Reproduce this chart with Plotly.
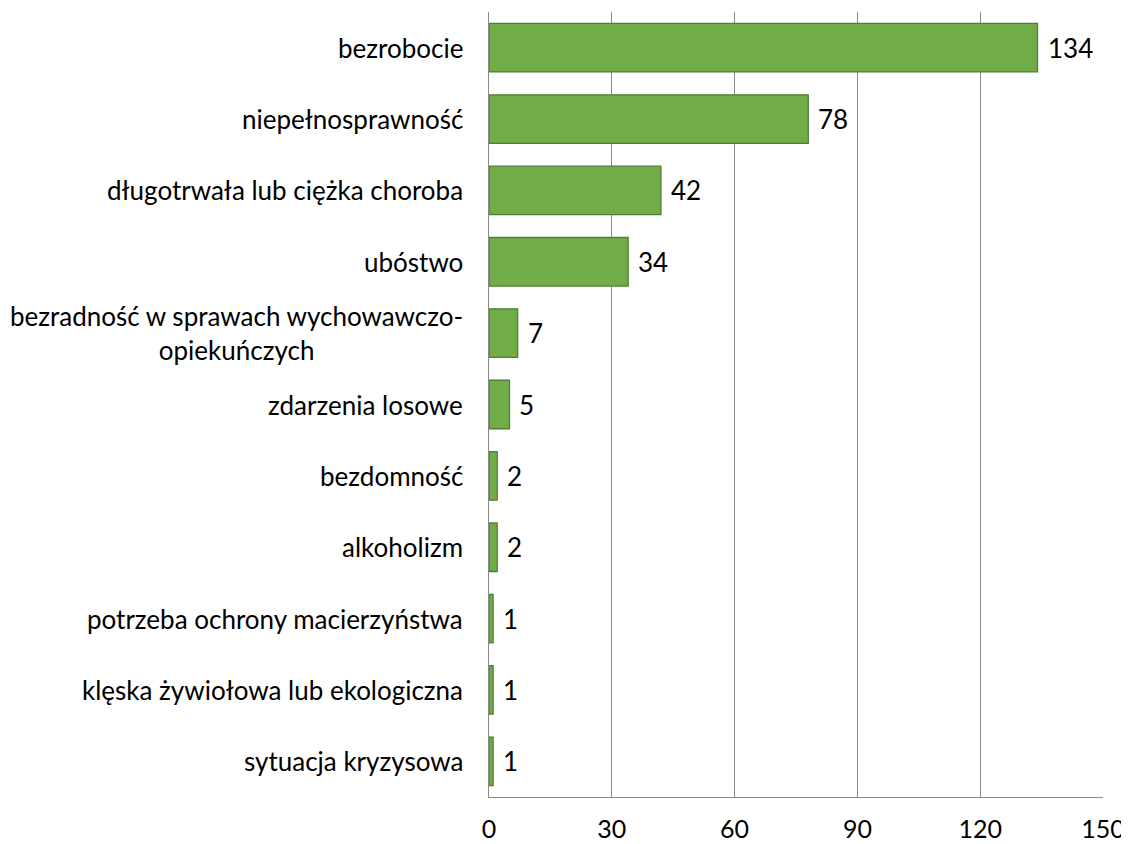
import plotly.graph_objects as go

categories = [
    "bezrobocie",
    "niepełnosprawność",
    "długotrwała lub ciężka choroba",
    "ubóstwo",
    "bezradność w sprawach wychowawczo-<br>opiekuńczych",
    "zdarzenia losowe",
    "bezdomność",
    "alkoholizm",
    "potrzeba ochrony macierzyństwa",
    "klęska żywiołowa lub ekologiczna",
    "sytuacja kryzysowa",
]
values = [134, 78, 42, 34, 7, 5, 2, 2, 1, 1, 1]
tick_vals = [0, 30, 60, 90, 120, 150]

FONT = "Lato"
FS = 26
GRID = "#8A8A8A"

fig = go.Figure()
fig.add_trace(go.Bar(
    x=values, y=categories, orientation="h",
    marker=dict(color="#70AD47", line=dict(color="#507E32", width=1.3)),
    width=0.68,
    hoverinfo="skip",
))

for c, v in zip(categories, values):
    fig.add_annotation(x=v, y=c, xref="x", yref="y", text=str(v), showarrow=False,
                       xanchor="left", xshift=8, font=dict(family=FONT, size=FS, color="#000"))
    fig.add_annotation(x=0, y=c, xref="paper", yref="y", text=c, showarrow=False,
                       xanchor="right", align="center", xshift=-24,
                       font=dict(family=FONT, size=FS, color="#000"))

fig.update_layout(
    width=1121, height=836,
    margin=dict(l=481, r=26, t=4, b=47, autoexpand=False),
    plot_bgcolor="white", paper_bgcolor="white",
    showlegend=False,
    font=dict(family=FONT, size=FS, color="#000"),
    xaxis=dict(range=[0, 150], tickvals=tick_vals, showgrid=True, gridcolor=GRID,
               gridwidth=1.3, zeroline=False, showline=True, linecolor=GRID, linewidth=1.3,
               ticks="outside", ticklen=10, tickcolor="rgba(0,0,0,0)",
               tickfont=dict(family=FONT, size=25, color="#000")),
    yaxis=dict(autorange="reversed", showticklabels=False, showgrid=False, zeroline=False,
               showline=True, linecolor=GRID, linewidth=1.3),
)

fig.write_html("out.html")
